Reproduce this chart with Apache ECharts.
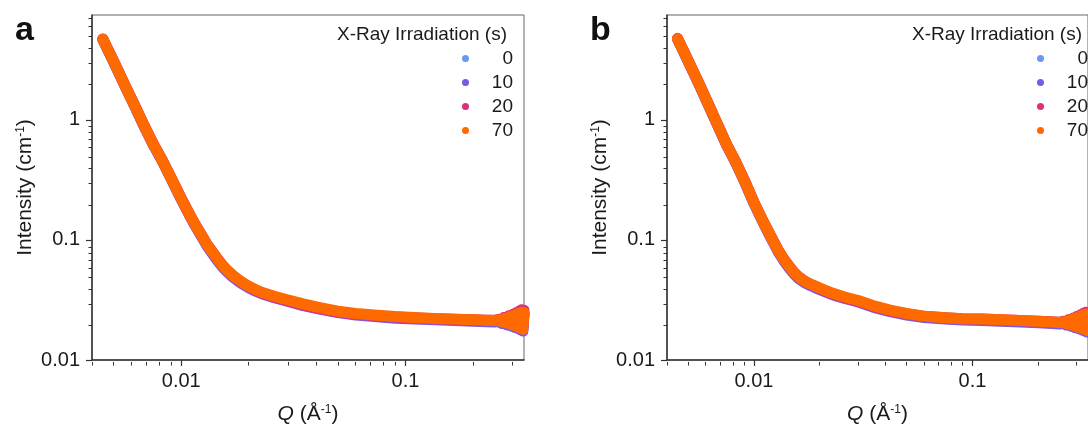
<!DOCTYPE html>
<html>
<head>
<meta charset="utf-8">
<script src="https://cdn.jsdelivr.net/npm/echarts@6/dist/echarts.min.js"></script>
<style>
html, body { margin: 0; padding: 0; background: #fff; }
#chart { width: 1088px; height: 430px; }
</style>
</head>
<body>
<div id="chart"></div>
<script>
// irradiation times (legend)
const names = ['0', '10', '20', '70']
const colors = ['#6b96f5', '#7a58e8', '#de2f7c', '#ff6a00']

// Q values (1/Å), shared by every curve
const q = [0.00447, 0.0050, 0.0056, 0.0062, 0.0068, 0.0075, 0.0082, 0.0090, 0.0100, 0.0105,
  0.0110, 0.0115, 0.0120, 0.0125, 0.0130, 0.0137, 0.0145, 0.0152, 0.0160, 0.0170,
  0.0180, 0.0190, 0.0200, 0.0215, 0.0230, 0.0260, 0.0300, 0.0350, 0.0420, 0.0500,
  0.0600, 0.0750, 0.0900, 0.1100, 0.1350, 0.1650, 0.2000, 0.2300, 0.2500, 0.2600,
  0.2680, 0.2750, 0.2820, 0.2890, 0.2950, 0.3010, 0.3070, 0.3120, 0.3170, 0.3220,
  0.3260, 0.3300, 0.3340, 0.3380]

// panel a, intensity (1/cm)
const a0 = [4.70, 3.04, 1.95, 1.31, 0.908, 0.627, 0.464, 0.328, 0.220, 0.185,
  0.157, 0.135, 0.118, 0.1042, 0.0916, 0.0800, 0.0690, 0.0615, 0.0555, 0.0500,
  0.0461, 0.0431, 0.0407, 0.0380, 0.0360, 0.0335, 0.0311, 0.0289, 0.0269, 0.0252,
  0.0241, 0.0233, 0.0227, 0.0223, 0.0219, 0.0216, 0.0213, 0.0211, 0.0210, 0.0213,
  0.0205, 0.0219, 0.0200, 0.0225, 0.0195, 0.0231, 0.0190, 0.0237, 0.0186, 0.0243,
  0.0181, 0.0247, 0.0177, 0.0245]
const a10 = [4.66, 3.02, 1.93, 1.30, 0.90, 0.622, 0.460, 0.325, 0.218, 0.183,
  0.155, 0.133, 0.116, 0.1022, 0.0898, 0.0782, 0.0673, 0.0601, 0.0543, 0.0490,
  0.0452, 0.0423, 0.0400, 0.0374, 0.0354, 0.0330, 0.0307, 0.0284, 0.0264, 0.0248,
  0.0237, 0.0229, 0.0223, 0.0219, 0.0216, 0.0213, 0.0210, 0.0208, 0.0207, 0.0209,
  0.0202, 0.0215, 0.0197, 0.0221, 0.0192, 0.0227, 0.0187, 0.0233, 0.0183, 0.0238,
  0.0178, 0.0243, 0.0174, 0.0241]
const a20 = [4.72, 3.07, 1.96, 1.32, 0.915, 0.632, 0.467, 0.331, 0.222, 0.186,
  0.158, 0.136, 0.119, 0.1050, 0.0925, 0.0808, 0.0698, 0.0622, 0.0562, 0.0506,
  0.0464, 0.0433, 0.0408, 0.0380, 0.0359, 0.0334, 0.0310, 0.0287, 0.0267, 0.0251,
  0.0241, 0.0233, 0.0228, 0.0224, 0.0221, 0.0218, 0.0216, 0.0214, 0.0214, 0.0218,
  0.0211, 0.0226, 0.0207, 0.0233, 0.0203, 0.0240, 0.0199, 0.0248, 0.0195, 0.0256,
  0.0192, 0.0262, 0.0188, 0.0260]
const a70 = [4.70, 3.05, 1.95, 1.31, 0.91, 0.628, 0.465, 0.329, 0.221, 0.1855,
  0.1575, 0.1355, 0.1183, 0.1045, 0.0920, 0.0805, 0.0695, 0.0620, 0.0560, 0.0505,
  0.0466, 0.0436, 0.0412, 0.0385, 0.0365, 0.0340, 0.0316, 0.0293, 0.0272, 0.0255,
  0.0244, 0.0236, 0.0230, 0.0226, 0.0222, 0.0219, 0.0216, 0.0214, 0.0213, 0.0216,
  0.0208, 0.0222, 0.0203, 0.0228, 0.0198, 0.0234, 0.0193, 0.0240, 0.0189, 0.0246,
  0.0184, 0.0250, 0.0180, 0.0248]

// panel b, intensity (1/cm)
const b0 = [4.75, 3.09, 2.00, 1.33, 0.918, 0.619, 0.454, 0.317, 0.204, 0.169,
  0.142, 0.121, 0.104, 0.0905, 0.0790, 0.0682, 0.0592, 0.0532, 0.0485, 0.0449,
  0.0427, 0.0409, 0.0393, 0.0372, 0.0354, 0.0331, 0.0309, 0.0281, 0.0257, 0.0241,
  0.0229, 0.0222, 0.0218, 0.0216, 0.0213, 0.0210, 0.0207, 0.0204, 0.0202, 0.0205,
  0.0198, 0.0211, 0.0193, 0.0217, 0.0188, 0.0223, 0.0184, 0.0229, 0.0180, 0.0235,
  0.0176, 0.0239, 0.0173, 0.0237]
const b10 = [4.71, 3.07, 1.98, 1.32, 0.91, 0.614, 0.450, 0.314, 0.202, 0.168,
  0.141, 0.120, 0.103, 0.0895, 0.0780, 0.0672, 0.0583, 0.0524, 0.0477, 0.0441,
  0.0419, 0.0401, 0.0386, 0.0366, 0.0348, 0.0325, 0.0304, 0.0276, 0.0253, 0.0237,
  0.0226, 0.0219, 0.0215, 0.0213, 0.0210, 0.0207, 0.0204, 0.0201, 0.0199, 0.0202,
  0.0196, 0.0208, 0.0191, 0.0214, 0.0186, 0.0220, 0.0182, 0.0226, 0.0178, 0.0232,
  0.0174, 0.0236, 0.0171, 0.0234]
const b20 = [4.77, 3.11, 2.01, 1.34, 0.925, 0.623, 0.457, 0.320, 0.206, 0.171,
  0.144, 0.123, 0.106, 0.0920, 0.0805, 0.0694, 0.0603, 0.0542, 0.0493, 0.0455,
  0.0430, 0.0411, 0.0394, 0.0372, 0.0354, 0.0330, 0.0308, 0.0280, 0.0257, 0.0242,
  0.0231, 0.0225, 0.0221, 0.0219, 0.0216, 0.0213, 0.0210, 0.0208, 0.0206, 0.0210,
  0.0203, 0.0217, 0.0199, 0.0224, 0.0195, 0.0231, 0.0191, 0.0238, 0.0188, 0.0245,
  0.0185, 0.0250, 0.0182, 0.0248]
const b70 = [4.75, 3.10, 2.00, 1.33, 0.92, 0.620, 0.455, 0.318, 0.205, 0.170,
  0.143, 0.122, 0.105, 0.0915, 0.0800, 0.0690, 0.0600, 0.0540, 0.0492, 0.0455,
  0.0432, 0.0414, 0.0398, 0.0377, 0.0359, 0.0335, 0.0313, 0.0284, 0.0260, 0.0244,
  0.0232, 0.0225, 0.0221, 0.0219, 0.0216, 0.0213, 0.0210, 0.0207, 0.0205, 0.0208,
  0.0201, 0.0214, 0.0196, 0.0220, 0.0191, 0.0226, 0.0187, 0.0232, 0.0183, 0.0238,
  0.0179, 0.0242, 0.0176, 0.0240]

// axis ticks
const xMajor = [0.01, 0.1]
const xMajorLabels = ['0.01', '0.1']
const xMinor = [0.004, 0.005, 0.006, 0.007, 0.008, 0.009, 0.02, 0.03, 0.04, 0.05, 0.06, 0.07, 0.08, 0.09, 0.2, 0.3]
const yMajor = [0.01, 0.1, 1]
const yMajorLabels = ['0.01', '0.1', '1']
const yMinor = [0.02, 0.03, 0.04, 0.05, 0.06, 0.07, 0.08, 0.09, 0.2, 0.3, 0.4, 0.5, 0.6, 0.7, 0.8, 0.9, 2, 3, 4, 5, 6, 7]
const xRange = [0.004, 0.338]
const yRange = [0.01, 7.47]

const panels = [[a0, a10, a20, a70], [b0, b10, b20, b70]]
const panelLetters = ['a', 'b']

const font = '"Liberation Sans", Arial, sans-serif'
const textColor = '#1a1a1a'
const axisColor = '#333'
const shift = 575
const gridLeft = 92, gridTop = 15, gridW = 432, gridH = 347

const fmt = (ticks, labels) => (v) => {
  for (let i = 0; i < ticks.length; i++) {
    if (Math.abs(v - ticks[i]) / ticks[i] < 1e-6) return labels[i]
  }
  return ''
}

const supRich = {
  sup: { fontSize: 12, verticalAlign: 'top', fontFamily: font, color: textColor },
  it: { fontSize: 21, fontStyle: 'italic', fontFamily: font, color: textColor }
}

let grid = [], xAxis = [], yAxis = [], series = [], legend = [], title = []

panels.forEach((sets, p) => {
  const left = gridLeft + p * shift
  // main grid with the box, and an overlapping one only for the minor ticks
  grid.push({ left: left, top: gridTop, width: gridW, height: gridH, show: true, borderColor: '#666', borderWidth: 1 })
  grid.push({ left: left, top: gridTop, width: gridW, height: gridH })
  const gi = p * 2

  xAxis.push({
    gridIndex: gi, type: 'log', min: xRange[0], max: xRange[1],
    axisLine: { onZero: false, lineStyle: { color: axisColor, width: 1.5 } },
    axisTick: { customValues: xMajor, length: 6, lineStyle: { color: axisColor, width: 1.2 } },
    axisLabel: { customValues: xMajor, formatter: fmt(xMajor, xMajorLabels), margin: 11, fontSize: 20, color: textColor, fontFamily: font },
    splitLine: { show: false },
    name: '{it|Q} (Å{sup|-1})', nameLocation: 'middle', nameGap: 44,
    nameTextStyle: { fontSize: 21, color: textColor, fontFamily: font, rich: supRich }
  })
  xAxis.push({
    gridIndex: gi + 1, type: 'log', min: xRange[0], max: xRange[1],
    axisLine: { show: false },
    axisTick: { customValues: xMinor, length: 3.5, lineStyle: { color: axisColor, width: 1 } },
    axisLabel: { show: false }, splitLine: { show: false }
  })
  yAxis.push({
    gridIndex: gi, type: 'log', min: yRange[0], max: yRange[1],
    axisLine: { onZero: false, lineStyle: { color: axisColor, width: 1.5 } },
    axisTick: { customValues: yMajor, length: 6, lineStyle: { color: axisColor, width: 1.2 } },
    axisLabel: { customValues: yMajor, formatter: fmt(yMajor, yMajorLabels), margin: 12, fontSize: 20, color: textColor, fontFamily: font },
    splitLine: { show: false },
    name: 'Intensity (cm{sup|-1})', nameLocation: 'middle', nameGap: 56,
    nameTextStyle: { fontSize: 21, color: textColor, fontFamily: font, rich: supRich }
  })
  yAxis.push({
    gridIndex: gi + 1, type: 'log', min: yRange[0], max: yRange[1],
    axisLine: { show: false },
    axisTick: { customValues: yMinor, length: 3.5, lineStyle: { color: axisColor, width: 1 } },
    axisLabel: { show: false }, splitLine: { show: false }
  })

  sets.forEach((vals, s) => {
    series.push({
      name: names[s], type: 'line', xAxisIndex: gi, yAxisIndex: gi,
      data: q.map((x, i) => [x, vals[i]]),
      showSymbol: false, silent: true, clip: true,
      color: colors[s],
      lineStyle: { width: 11, color: colors[s], cap: 'round', join: 'round' },
      emphasis: { disabled: true }
    })
  })

  legend.push({
    left: 462 + p * shift, top: 49, orient: 'vertical', padding: 0,
    icon: 'circle', itemWidth: 7, itemHeight: 7, itemGap: 5,
    selectedMode: false, data: names,
    itemStyle: { borderWidth: 0 },
    formatter: (n) => '{n|' + n + '}',
    textStyle: { rich: { n: { width: 39, align: 'right', fontSize: 19, lineHeight: 20, color: textColor, fontFamily: font } } }
  })

  title.push({
    text: panelLetters[p], left: 15 + p * shift, top: 14, padding: 0,
    textStyle: { fontSize: 34, fontWeight: 'bold', color: '#111', fontFamily: font }
  })
  title.push({
    text: 'X-Ray Irradiation (s)', left: 337 + p * shift, top: 25, padding: 0,
    textStyle: { fontSize: 19, fontWeight: 'normal', color: textColor, fontFamily: font }
  })
})

const chart = echarts.init(document.getElementById('chart'))
chart.setOption({
  animation: false,
  backgroundColor: '#fff',
  title: title,
  legend: legend,
  grid: grid,
  xAxis: xAxis,
  yAxis: yAxis,
  series: series
})
</script>
</body>
</html>
